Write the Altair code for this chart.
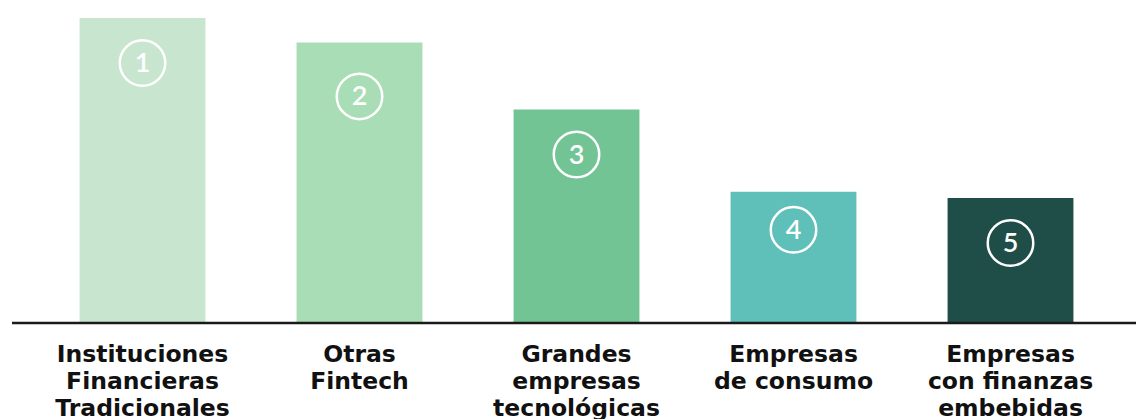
import altair as alt
import pandas as pd

categories = [
    "Instituciones\nFinancieras\nTradicionales",
    "Otras\nFintech",
    "Grandes\nempresas\ntecnológicas",
    "Empresas\nde consumo",
    "Empresas\ncon finanzas\nembebidas",
]
ranks = ["1", "2", "3", "4", "5"]
values = [100, 92, 70, 43, 41]
colors = ["#c8e5cf", "#a8ddb5", "#72c495", "#5fbfb9", "#1e4e47"]

df = pd.DataFrame({"cat": categories, "rank": ranks, "value": values, "color": colors})

x = alt.X("cat:N", sort=categories, axis=None,
          scale=alt.Scale(paddingInner=0.42, paddingOuter=0.21))
y = alt.Y("value:Q", axis=None, scale=alt.Scale(domain=[0, 100], nice=False))

base = alt.Chart(df)

bars = base.mark_bar().encode(x=x, y=y, color=alt.Color("color:N", scale=None))

# badge offset below bar top (style), per rank
badge_offsets = {"1": 45, "2": 54, "3": 45, "4": 38, "5": 45}
badges = []
for r, off in badge_offsets.items():
    sub = base.transform_filter(f"datum.rank == '{r}'")
    badges.append(sub.mark_point(shape="circle", filled=False, stroke="white",
                                 strokeWidth=2.5, size=2070, opacity=1,
                                 yOffset=off).encode(x=x, y=y))
    badges.append(sub.mark_text(color="white", font="Lato", fontSize=27, fontWeight=600,
                                baseline="middle", align="center",
                                yOffset=off + 1).encode(x=x, y=y, text="rank:N"))

labels = base.mark_text(font="DejaVu Sans", fontSize=23.5, fontWeight="bold", color="#111111",
                        baseline="alphabetic", align="center", lineBreak="\n",
                        lineHeight=27).encode(x=x, y=alt.value(344), text="cat:N")

rule_df = pd.DataFrame({"v": [0]})
rule = alt.Chart(rule_df).mark_rule(color="#1a1a1a", strokeWidth=2.5).encode(
    y=alt.Y("v:Q", scale=alt.Scale(domain=[0, 100], nice=False), axis=None),
    x=alt.value(-22), x2=alt.value(1120))

chart = alt.layer(bars, *badges, rule, labels).properties(
    width=1085, height=305,
    autosize=alt.AutoSizeParams(type="none"),
    padding={"left": 26, "top": 10, "right": 17, "bottom": 100},
).configure_view(stroke=None)

chart.save("out.html", embed_options={"renderer": "svg", "actions": False})
